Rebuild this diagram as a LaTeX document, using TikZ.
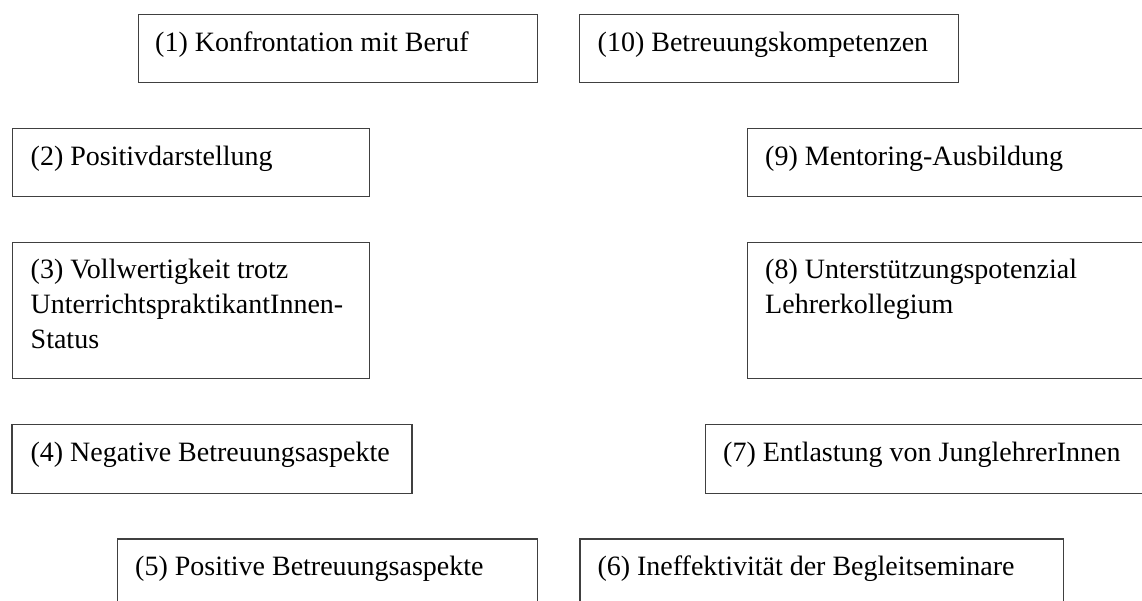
\documentclass[tikz,border=0pt]{standalone}
\usepackage{fontspec}
\setmainfont{Liberation Serif}
\tikzset{
  box/.style={draw=black!75, line width=1.2pt, inner sep=0pt, anchor=north west},
  lbl/.style={anchor=base west, inner sep=0pt, font=\fontsize{28}{35}\selectfont}
}
\begin{document}
\begin{tikzpicture}[x=1pt,y=-1pt]
\useasboundingbox (0,0) rectangle (1142,600);
\clip (0,0) rectangle (1142,600);
% row 1
\node[box, minimum width=399.5pt, minimum height=67.5pt] (b1) at (137.5,14) {};
\node[lbl] (t1) at ([shift={(17.5,37.5)}]b1.north west) {(1) Konfrontation mit Beruf};
\node[box, minimum width=378.5pt, minimum height=67.5pt] (b10) at (579,14) {};
\node[lbl] (t10) at ([shift={(18.5,37.5)}]b10.north west) {(10) Betreuungskompetenzen};
% row 2
\node[box, minimum width=357.5pt, minimum height=68pt] (b2) at (11.5,128) {};
\node[lbl] (t2) at ([shift={(19,37)}]b2.north west) {(2) Positivdarstellung};
\node[box, minimum width=420pt, minimum height=68pt] (b9) at (747,128) {};
\node[lbl] (t9) at ([shift={(18,37)}]b9.north west) {(9) Mentoring-Ausbildung};
% row 3
\node[box, minimum width=357.5pt, minimum height=136pt] (b3) at (11.5,242) {};
\node[lbl] (t3) at ([shift={(19,36)}]b3.north west) {\parbox[t]{500pt}{(3) Vollwertigkeit trotz\\UnterrichtspraktikantInnen-\\Status}};
\node[box, minimum width=420pt, minimum height=136pt] (b8) at (747,242) {};
\node[lbl] (t8) at ([shift={(18,36)}]b8.north west) {\parbox[t]{500pt}{(8) Unterstützungspotenzial\\Lehrerkollegium}};
% row 4
\node[box, minimum width=400pt, minimum height=68.5pt] (b4) at (11.3,424) {};
\node[lbl] (t4) at ([shift={(19,37.5)}]b4.north west) {(4) Negative Betreuungsaspekte};
\node[box, minimum width=460pt, minimum height=68.5pt] (b7) at (705,424) {};
\node[lbl] (t7) at ([shift={(18,37.5)}]b7.north west) {(7) Entlastung von JunglehrerInnen};
% row 5
\node[box, minimum width=420pt, minimum height=90pt] (b5) at (116.7,538.3) {};
\node[lbl] (t5) at ([shift={(18.3,37.5)}]b5.north west) {(5) Positive Betreuungsaspekte};
\node[box, minimum width=483.4pt, minimum height=90pt] (b6) at (579.3,538.3) {};
\node[lbl] (t6) at ([shift={(18,37.5)}]b6.north west) {(6) Ineffektivität der Begleitseminare};
\end{tikzpicture}
\end{document}
